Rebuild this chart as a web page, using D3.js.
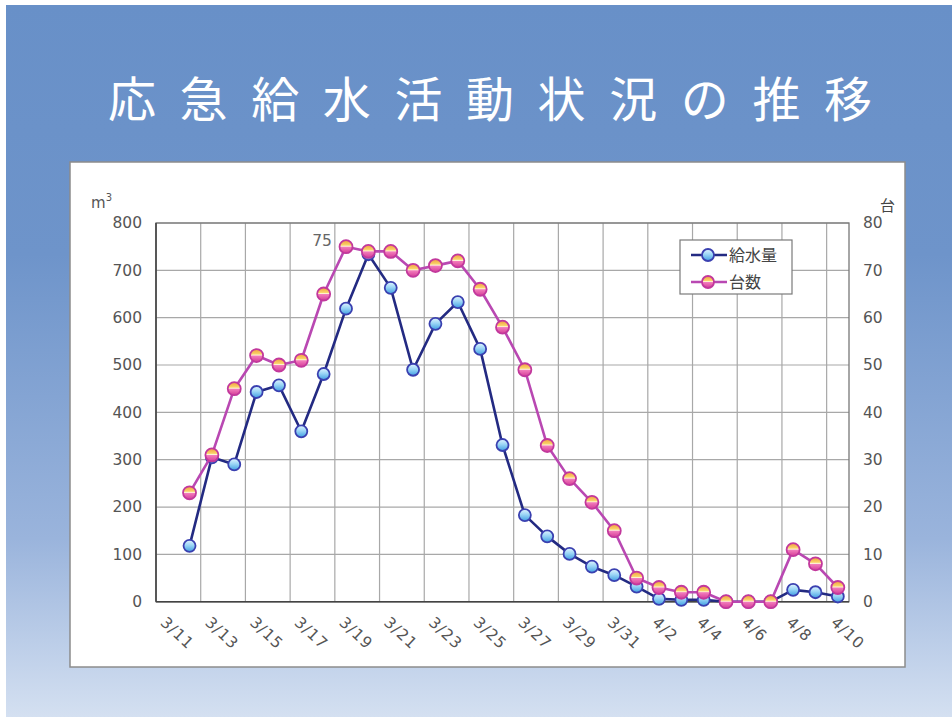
<!DOCTYPE html>
<html lang="ja">
<head>
<meta charset="utf-8">
<script src="https://cdn.jsdelivr.net/npm/d3@7"></script>
<style>
  html, body { margin: 0; padding: 0; background: #fff; }
  svg { display: block; }
</style>
</head>
<body>
<svg id="chart" width="952" height="717"></svg>
<script>
// Daily categories (3/11 – 4/10)
const dates = ["3/11","3/12","3/13","3/14","3/15","3/16","3/17","3/18","3/19","3/20",
  "3/21","3/22","3/23","3/24","3/25","3/26","3/27","3/28","3/29","3/30","3/31",
  "4/1","4/2","4/3","4/4","4/5","4/6","4/7","4/8","4/9","4/10"];

// 給水量 (m³), left axis
const supplyValues = [null,118,305,290,443,457,360,481,619,734,663,490,587,633,534,331,
  183,138,101,74,56,32,6,4,4,0,0,0,25,20,11];

// 台数 (vehicles), right axis
const vehicleValues = [null,23,31,45,52,50,51,65,75,74,74,70,71,72,66,58,
  49,33,26,21,15,5,3,2,2,0,0,0,11,8,3];

const leftTicks = [0,100,200,300,400,500,600,700,800];
const rightTicks = [0,10,20,30,40,50,60,70,80];
const xLabels = dates.filter((d, i) => i % 2 === 0);

const titleText = "応急給水活動状況の推移";
const seriesNames = ["給水量", "台数"];
const peakLabel = { index: 8, text: "75" };

const svg = d3.select("#chart");
const W = 952, H = 717;
const plot = { left: 156, right: 849, top: 223, bottom: 601.7 };

// ---- background ----
const defs = svg.append("defs");
const bg = defs.append("linearGradient").attr("id", "bgGrad")
  .attr("x1", 0).attr("y1", 0).attr("x2", 0).attr("y2", 1);
bg.append("stop").attr("offset", "0%").attr("stop-color", "#6890c8");
bg.append("stop").attr("offset", "35%").attr("stop-color", "#6e94ca");
bg.append("stop").attr("offset", "75%").attr("stop-color", "#9ab4dc");
bg.append("stop").attr("offset", "100%").attr("stop-color", "#d4e0f1");

const gb = defs.append("linearGradient").attr("id", "blueDot")
  .attr("x1", 0).attr("y1", 0).attr("x2", 0).attr("y2", 1);
gb.append("stop").attr("offset", "0%").attr("stop-color", "#e2f5ff");
gb.append("stop").attr("offset", "45%").attr("stop-color", "#9cd6f6");
gb.append("stop").attr("offset", "100%").attr("stop-color", "#3f9ee2");

const gp = defs.append("linearGradient").attr("id", "pinkDot")
  .attr("x1", 0).attr("y1", 0).attr("x2", 0).attr("y2", 1);
gp.append("stop").attr("offset", "0%").attr("stop-color", "#f29a3e");
gp.append("stop").attr("offset", "38%").attr("stop-color", "#f9d46a");
gp.append("stop").attr("offset", "47%").attr("stop-color", "#fff6d8");
gp.append("stop").attr("offset", "53%").attr("stop-color", "#f27cbc");
gp.append("stop").attr("offset", "100%").attr("stop-color", "#d43c98");

svg.append("rect").attr("x", 0).attr("y", 0).attr("width", W).attr("height", H).attr("fill", "#fff");
svg.append("rect").attr("x", 6).attr("y", 5).attr("width", W - 6).attr("height", H - 5)
  .attr("fill", "url(#bgGrad)");

// ---- title ----
svg.append("text")
  .attr("x", 108).attr("y", 117)
  .attr("textLength", 764).attr("lengthAdjust", "spacing")
  .attr("font-family", "'Noto Sans CJK JP', 'Noto Sans', sans-serif")
  .attr("font-size", 48).attr("font-weight", 400)
  .attr("fill", "#ffffff")
  .text(titleText);

// ---- chart panel ----
svg.append("rect").attr("x", 70).attr("y", 162).attr("width", 835).attr("height", 505)
  .attr("fill", "#fff").attr("stroke", "#8c8c8c").attr("stroke-width", 1.5);

// ---- scales ----
const x = d3.scaleBand().domain(dates).range([plot.left, plot.right]).padding(0);
const cx = d => x(d) + x.bandwidth() / 2;
const yL = d3.scaleLinear().domain([0, 800]).range([plot.bottom, plot.top]);
const yR = d3.scaleLinear().domain([0, 80]).range([plot.bottom, plot.top]);

// ---- grid ----
const grid = svg.append("g").attr("stroke", "#a8a8a8").attr("stroke-width", 1.2);
grid.selectAll("line.h").data(leftTicks).join("line")
  .attr("x1", plot.left).attr("x2", plot.right)
  .attr("y1", d => yL(d)).attr("y2", d => yL(d));
grid.selectAll("line.v").data(xLabels.slice(1)).join("line")
  .attr("x1", d => x(d)).attr("x2", d => x(d))
  .attr("y1", plot.top).attr("y2", plot.bottom);
svg.append("rect")
  .attr("x", plot.left).attr("y", plot.top)
  .attr("width", plot.right - plot.left).attr("height", plot.bottom - plot.top)
  .attr("fill", "none").attr("stroke", "#777").attr("stroke-width", 1.3);
svg.append("line").attr("x1", plot.left).attr("x2", plot.right)
  .attr("y1", plot.bottom).attr("y2", plot.bottom)
  .attr("stroke", "#444").attr("stroke-width", 1.6);
svg.append("line").attr("x1", plot.left).attr("x2", plot.left)
  .attr("y1", plot.top).attr("y2", plot.bottom)
  .attr("stroke", "#444").attr("stroke-width", 1.6);

// ---- axes ----
const tickFont = "'DejaVu Sans', Verdana, sans-serif";
const styleAxis = g => {
  g.select(".domain").remove();
  g.selectAll("text").attr("font-family", tickFont).attr("font-size", 15.5)
    .attr("fill", "#555");
};
svg.append("g").attr("transform", `translate(${plot.left},0)`)
  .call(d3.axisLeft(yL).tickValues(leftTicks).tickSize(0).tickPadding(14))
  .call(styleAxis);
svg.append("g").attr("transform", `translate(${plot.right},0)`)
  .call(d3.axisRight(yR).tickValues(rightTicks).tickSize(0).tickPadding(14))
  .call(styleAxis);
svg.append("g").attr("transform", `translate(0,${plot.bottom})`)
  .call(d3.axisBottom(x).tickValues(xLabels).tickSize(0))
  .call(g => {
    g.select(".domain").remove();
    g.selectAll("text")
      .attr("font-family", tickFont).attr("font-size", 15.5).attr("fill", "#555")
      .attr("letter-spacing", 1)
      .attr("x", 0).attr("y", 0).attr("dy", "0.35em")
      .attr("text-anchor", "start")
      .attr("transform", "translate(-4,18) rotate(43)");
  });

// axis units
const unitL = svg.append("text").attr("x", 91).attr("y", 208)
  .attr("font-family", tickFont).attr("font-size", 15).attr("fill", "#555");
unitL.append("tspan").text("m");
unitL.append("tspan").attr("dy", -7).attr("font-size", 10).text("3");
svg.append("text").attr("x", 880).attr("y", 211)
  .attr("font-family", "'Noto Sans CJK JP', sans-serif").attr("font-size", 15)
  .attr("fill", "#444").text("台");

// ---- series ----
const supply = dates.map((d, i) => ({ d, v: supplyValues[i] })).filter(p => p.v !== null);
const vehicles = dates.map((d, i) => ({ d, v: vehicleValues[i] })).filter(p => p.v !== null);

const blueStroke = "#232a82", pinkStroke = "#b948b2";

svg.append("path").datum(supply)
  .attr("fill", "none").attr("stroke", blueStroke).attr("stroke-width", 2.6)
  .attr("stroke-linejoin", "round")
  .attr("d", d3.line().x(p => cx(p.d)).y(p => yL(p.v)));
svg.append("g").selectAll("circle").data(supply).join("circle")
  .attr("cx", p => cx(p.d)).attr("cy", p => yL(p.v)).attr("r", 6)
  .attr("fill", "url(#blueDot)").attr("stroke", "#3a40b0").attr("stroke-width", 1.8);

svg.append("path").datum(vehicles)
  .attr("fill", "none").attr("stroke", pinkStroke).attr("stroke-width", 2.6)
  .attr("stroke-linejoin", "round")
  .attr("d", d3.line().x(p => cx(p.d)).y(p => yR(p.v)));
svg.append("g").selectAll("circle").data(vehicles).join("circle")
  .attr("cx", p => cx(p.d)).attr("cy", p => yR(p.v)).attr("r", 6.5)
  .attr("fill", "url(#pinkDot)").attr("stroke", "#c2389c").attr("stroke-width", 1.8);

// peak annotation
const peakDate = dates[peakLabel.index];
svg.append("text")
  .attr("x", cx(peakDate) - 24).attr("y", yR(vehicleValues[peakLabel.index]) - 1)
  .attr("text-anchor", "middle")
  .attr("font-family", tickFont).attr("font-size", 15.5).attr("fill", "#666")
  .text(peakLabel.text);

// ---- legend ----
const lg = svg.append("g").attr("transform", "translate(680,240)");
lg.append("rect").attr("width", 112).attr("height", 54)
  .attr("fill", "#fff").attr("stroke", "#7a7a7a").attr("stroke-width", 1.2);
const legendItems = [
  { name: seriesNames[0], stroke: blueStroke, dot: "url(#blueDot)", dotStroke: "#3a40b0", y: 15 },
  { name: seriesNames[1], stroke: pinkStroke, dot: "url(#pinkDot)", dotStroke: "#c2389c", y: 42 }
];
legendItems.forEach(it => {
  lg.append("line").attr("x1", 11).attr("x2", 47).attr("y1", it.y).attr("y2", it.y)
    .attr("stroke", it.stroke).attr("stroke-width", 2.6);
  lg.append("circle").attr("cx", 28).attr("cy", it.y).attr("r", 6)
    .attr("fill", it.dot).attr("stroke", it.dotStroke).attr("stroke-width", 1.8);
  lg.append("text").attr("x", 49).attr("y", it.y + 6)
    .attr("font-family", "'Noto Sans CJK JP', sans-serif").attr("font-size", 16)
    .attr("fill", "#444").text(it.name);
});
</script>
</body>
</html>
